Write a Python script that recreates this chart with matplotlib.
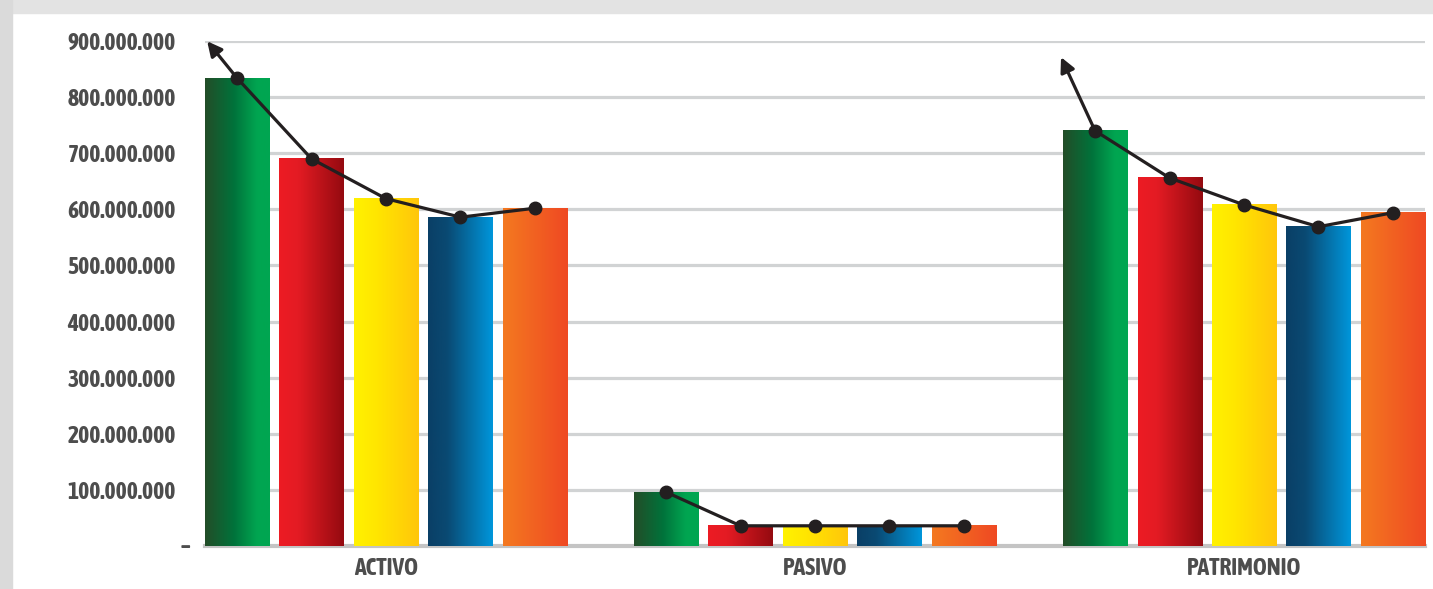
"""Grouped gradient bar chart: ACTIVO / PASIVO / PATRIMONIO with trend lines"""

import matplotlib

matplotlib.use("Agg")
import matplotlib.pyplot as plt
import numpy as np
from matplotlib.colors import LinearSegmentedColormap
from matplotlib.patches import Rectangle
from matplotlib.ticker import FuncFormatter, MultipleLocator

# Data (one list per coloured series)
categories = ["ACTIVO", "PASIVO", "PATRIMONIO"]
serie_verde = [834e6, 96e6, 740e6]
serie_roja = [690e6, 36e6, 656e6]
serie_amarilla = [619e6, 36e6, 608e6]
serie_azul = [586e6, 36e6, 569e6]
serie_naranja = [602e6, 36e6, 594e6]
series = [serie_verde, serie_roja, serie_amarilla, serie_azul, serie_naranja]

# Horizontal gradients of each series
gradients = [
    [(0, "#234d28"), (0.45, "#00733b"), (0.8, "#00a551"), (1, "#00a651")],
    [(0, "#ed1c24"), (0.3, "#e31b23"), (1, "#940a10")],
    [(0, "#fff200"), (0.35, "#ffe600"), (1, "#ffc60b")],
    [(0, "#0a3f66"), (0.3, "#0a4a73"), (1, "#0096db")],
    [(0, "#f47920"), (1, "#ef4923")],
]

# Arrow tips, in points relative to the first marker of a group
arrow_offsets = {0: (-21.5, 26.5), 2: (-24.5, 53)}

TEXT_COLOR = "#4d4d4d"
LINE_COLOR = "#231f20"
FONT = ["Asap Condensed", "Archivo Narrow", "DejaVu Sans"]

figure = plt.figure(figsize=(14.33, 5.89), dpi=100)
figure.patch.set_facecolor("white")

# Grey frame on top and left
figure.patches.append(Rectangle((0, 1 - 13 / 589), 1, 13 / 589, transform=figure.transFigure,
                                color="#e3e3e3", zorder=0))
figure.patches.append(Rectangle((0, 0), 12 / 1433, 1, transform=figure.transFigure,
                                color="#dadada", zorder=0))

axes = figure.add_axes((205 / 1433, 1 - 546 / 589, 1220 / 1433, 505 / 589))

group_centers = np.arange(len(categories)) * 5.76
offsets = np.arange(len(series)) - 2
bar_width = 0.86

ramp = np.linspace(0, 1, 256).reshape(1, -1)
for index, (values, stops) in enumerate(zip(series, gradients)):
    bars = axes.bar(group_centers + offsets[index], values, width=bar_width, zorder=3)
    cmap = LinearSegmentedColormap.from_list(f"grad{index}", stops)
    for patch in bars.patches:
        x0, w, h = patch.get_x(), patch.get_width(), patch.get_height()
        axes.imshow(ramp, cmap=cmap, extent=(x0, x0 + w, 0, h), aspect="auto",
                    interpolation="bicubic", zorder=3)
        patch.set_visible(False)

# Trend line inside every group
table = np.array(series)
for group in range(len(categories)):
    xs = group_centers[group] + offsets
    ys = table[:, group]
    axes.plot(xs, ys, color=LINE_COLOR, lw=2.3, marker="o", markersize=9, zorder=5,
              clip_on=False)
    if group in arrow_offsets:
        axes.annotate("", xy=(xs[0], ys[0]), xytext=arrow_offsets[group],
                      textcoords="offset points",
                      arrowprops=dict(arrowstyle="<|-", color=LINE_COLOR, lw=2.3,
                                      shrinkA=0, shrinkB=0, mutation_scale=22),
                      zorder=5, annotation_clip=False)

axes.set_xlim(group_centers[0] - 2 - bar_width / 2, group_centers[-1] + 2 + bar_width / 2)
axes.set_ylim(0, 900e6)

# Axis styling
axes.yaxis.set_major_locator(MultipleLocator(100e6))
axes.yaxis.set_major_formatter(
    FuncFormatter(lambda v, _pos: "" if v == 0 else f"{v:,.0f}".replace(",", "."))
)
# the zero label is a short dash placed closer to the axis
axes.annotate("–", xy=(0, 0), xycoords=("axes fraction", "data"), xytext=(-10.5, 0),
              textcoords="offset points", ha="right", va="center", color=TEXT_COLOR,
              family=FONT, fontweight="bold", fontsize=17, annotation_clip=False)
axes.grid(axis="y", color="#d1d3d4", lw=2.3, zorder=1)
axes.set_axisbelow(True)
axes.set_xticks(group_centers, categories)
axes.tick_params(axis="both", length=0, colors=TEXT_COLOR)
axes.tick_params(axis="y", pad=21)
axes.tick_params(axis="x", pad=8)
for label in axes.get_xticklabels() + axes.get_yticklabels():
    label.set_fontfamily(FONT)
    label.set_fontweight("bold")
    label.set_fontsize(17)
for side in ("top", "right", "left"):
    axes.spines[side].set_visible(False)
axes.spines["bottom"].set_color("#c4c4c4")
axes.spines["bottom"].set_linewidth(3)
axes.spines["bottom"].set_zorder(2)

figure.savefig("out.png", dpi=100)
